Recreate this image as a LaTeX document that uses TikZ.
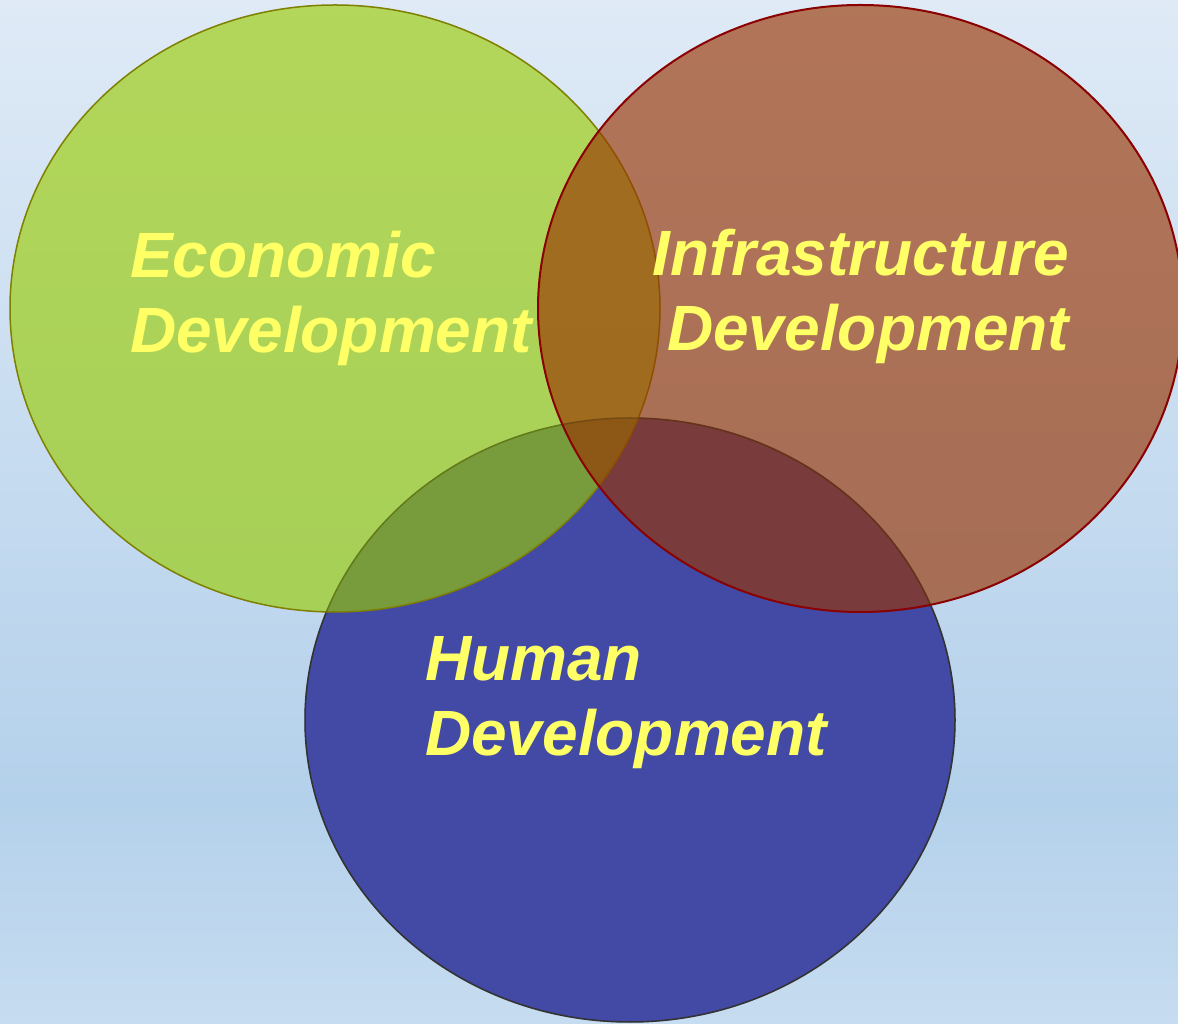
\documentclass[tikz,border=0pt]{standalone}
\usepackage{fontspec}
\newfontfamily\vennfont{Liberation Sans}
\definecolor{econgreen}{HTML}{99CC00}
\definecolor{econedge}{HTML}{7F7F00}
\definecolor{infrabrown}{HTML}{993300}
\definecolor{infraedge}{HTML}{8B0000}
\definecolor{humanblue}{HTML}{424AA5}
\definecolor{humanedge}{HTML}{333333}
\definecolor{labelyellow}{HTML}{FFFF66}
\definecolor{bgtop}{HTML}{DFEAF6}
\definecolor{bgmid}{HTML}{B4D1EB}
\definecolor{bgbottom}{HTML}{C6DCF0}
\tikzset{
    venn label/.style={font=\vennfont\bfseries\itshape\fontsize{64}{75}\selectfont,
        text=labelyellow, inner sep=0pt},
}

\begin{document}
\begin{tikzpicture}[x=1pt,y=1pt]
    % background
    \useasboundingbox (0,0) rectangle (1178,1023);
    \shade[top color=bgtop, bottom color=bgmid] (0,223) rectangle (1178,1023);
    \shade[top color=bgmid, bottom color=bgbottom] (0,0) rectangle (1178,223);
    % human development at the bottom
    \filldraw[fill=humanblue, draw=humanedge, line width=1.5] (630,303) ellipse [x radius=325, y radius=302];
    % economic + infrastructure, see-through
    \filldraw[fill=econgreen, fill opacity=0.63, draw=econedge, line width=1.5] (335,714.5) ellipse [x radius=325, y radius=303.5];
    \filldraw[fill=infrabrown, fill opacity=0.64, draw=infraedge, line width=2] (860.5,714.5) ellipse [x radius=322.5, y radius=303.5];
    % blue edge showing through
    \draw[humanedge, draw opacity=0.25, line width=1.5] (630,303) ellipse [x radius=325, y radius=302];
    % labels
    \node[venn label, align=left] (econ) at (331,725) {Economic\\Development};
    \node[venn label, align=right] (infra) at (861,727) {Infrastructure\\Development};
    \node[venn label, align=left] (human) at (626,320) {Human\\Development};
\end{tikzpicture}
\end{document}
